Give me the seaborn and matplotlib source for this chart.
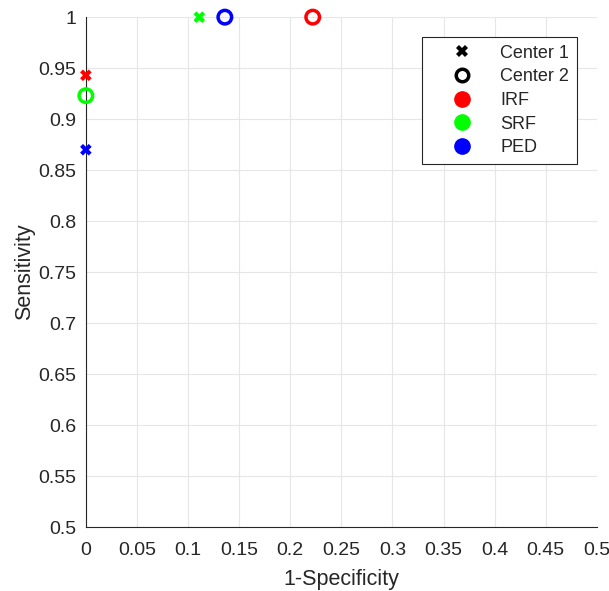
import pandas as pd
import numpy as np
import matplotlib
matplotlib.use('Agg')
import matplotlib.pyplot as plt
from matplotlib.lines import Line2D
import seaborn as sns

fluids = ['IRF', 'SRF', 'PED']
c1_fpr = [0.0, 0.111, 0.0]
c1_tpr = [0.943, 1.0, 0.870]
c2_fpr = [0.222, 0.0, 0.136]
c2_tpr = [1.0, 0.923, 1.0]
colors = {'IRF': '#ff0000', 'SRF': '#00ff00', 'PED': '#0000ff'}

df1 = pd.DataFrame({'fpr': c1_fpr, 'tpr': c1_tpr, 'Fluid': fluids})
df2 = pd.DataFrame({'fpr': c2_fpr, 'tpr': c2_tpr, 'Fluid': fluids})

sns.set_style('white')
plt.rcParams['font.family'] = ['Liberation Sans', 'DejaVu Sans']

fig = plt.figure(figsize=(6.09, 5.91), dpi=100)
ax = fig.add_axes([0.141, 0.108, 0.839, 0.863])

sns.scatterplot(data=df1, x='fpr', y='tpr', hue='Fluid', palette=colors,
                marker='X', s=70, linewidth=0, legend=False, ax=ax, clip_on=False, zorder=3)
sns.scatterplot(data=df2, x='fpr', y='tpr', hue='Fluid', palette=colors,
                marker='o', s=95, legend=False, ax=ax, clip_on=False, zorder=3)
pts = ax.collections[-1]
fc = pts.get_facecolors()
pts.set_edgecolors(fc)
pts.set_facecolors('none')
pts.set_linewidths(2.5)

ax.set_xlim(0, 0.5)
ax.set_ylim(0.5, 1)
xt = np.round(np.arange(0, 0.501, 0.05), 2)
yt = np.round(np.arange(0.5, 1.001, 0.05), 2)
ax.set_xticks(xt)
ax.set_yticks(yt)
ax.set_xticklabels([f'{v:g}' for v in xt])
ax.set_yticklabels([f'{v:g}' for v in yt])
ax.tick_params(direction='in', length=5, width=0.8, labelsize=14, colors='#262626')
ax.tick_params(axis='x', pad=11)
ax.tick_params(axis='y', pad=7)
ax.grid(True, color='#e6e6e6', linewidth=0.8)
ax.set_axisbelow(True)
for s in ['top', 'right']:
    ax.spines[s].set_visible(False)
for s in ['left', 'bottom']:
    ax.spines[s].set_color('#262626')
    ax.spines[s].set_linewidth(0.8)
ax.set_xlabel('1-Specificity', fontsize=15.5, color='#262626', labelpad=7)
ax.set_ylabel('Sensitivity', fontsize=15.5, color='#262626', labelpad=2)

handles = [
    Line2D([], [], linestyle='none', marker='X', color='black', markersize=8, markeredgewidth=0),
    Line2D([], [], linestyle='none', marker='o', markerfacecolor='none', markeredgecolor='black',
           markersize=9, markeredgewidth=2.5),
]
for f in fluids:
    handles.append(Line2D([], [], linestyle='none', marker='o', color=colors[f], markersize=11))
leg = ax.legend(handles, ['Center 1', 'Center 2'] + fluids, loc='upper right',
                bbox_to_anchor=(0.961, 0.961), borderaxespad=0, fontsize=13, frameon=True,
                fancybox=False, edgecolor='#262626', framealpha=1, handletextpad=0.35,
                borderpad=0.42, labelspacing=0.37, handlelength=3.55)
leg.get_frame().set_linewidth(0.8)

fig.savefig('out.png', dpi=100)
